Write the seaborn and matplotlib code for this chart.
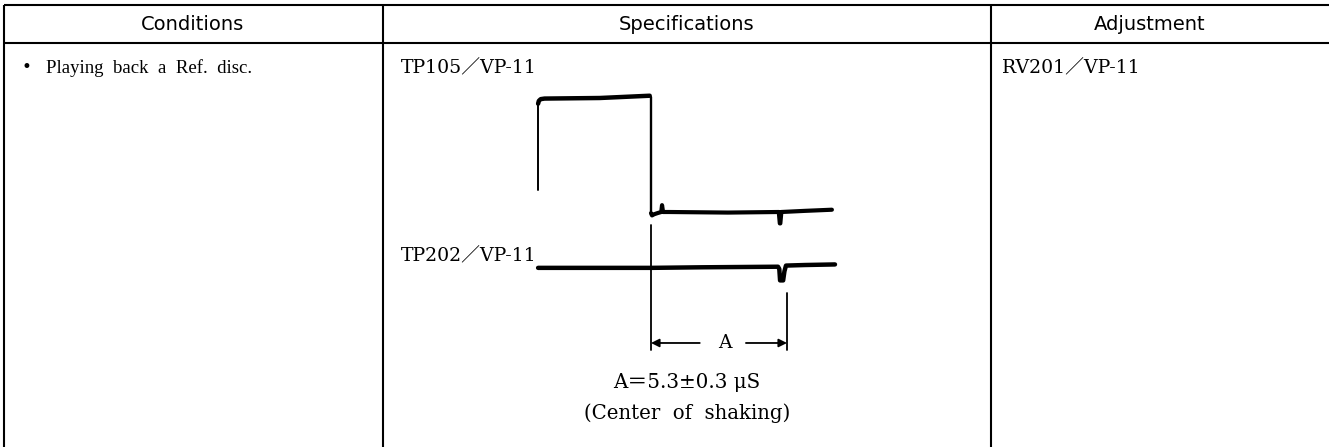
import matplotlib
matplotlib.use("Agg")
import matplotlib.pyplot as plt
import seaborn as sns
import numpy as np

# ---------------- data ----------------
headers = ["Conditions", "Specifications", "Adjustment"]
condition_text = "Playing  back  a  Ref.  disc."
spec_label_1 = "TP105／VP-11"
spec_label_2 = "TP202／VP-11"
adjust_text = "RV201／VP-11"
a_value = 5.3      # microseconds
spec_text = "A＝5.3±0.3 μS"
spec_note = "(Center  of  shaking)"

# TP105 waveform (time in us relative to falling edge, level in arbitrary units)
tp105_rise_t = [-4.40, -4.40]
tp105_rise_v = [0.19, 0.95]
tp105_top_t = [-4.40, -4.37, -4.30, -4.15, -2.0, -0.05]
tp105_top_v = [0.95, 0.975, 0.99, 0.995, 1.00, 1.02]
tp105_fall_t = [0.0, 0.0]
tp105_fall_v = [1.01, -0.01]
tp105_low_t = [0.0, 0.04, 0.12, 0.25, 0.40, 0.43, 0.47, 0.7, 3.0, 4.98, 5.02, 5.04, 5.08, 6.0, 7.05]
tp105_low_v = [-0.01, -0.03, -0.02, -0.01, 0.0, 0.06, 0.0, 0.0, -0.005, 0.0, -0.10, -0.10, 0.0, 0.01, 0.02]

# TP202 waveform
tp202_t = [-4.40, -1.0, 0.0, 2.0, 4.95, 5.00, 5.03, 5.15, 5.20, 5.26, 6.0, 7.17]
tp202_v = [-0.49, -0.49, -0.49, -0.485, -0.48, -0.50, -0.60, -0.60, -0.52, -0.47, -0.465, -0.46]

# ---------------- figure ----------------
sns.set_theme(style="white")
plt.rcParams["font.family"] = ["DejaVu Serif", "Noto Sans CJK JP", "DejaVu Sans"]

W, H = 1329, 447
fig = plt.figure(figsize=(W / 100, H / 100), dpi=100)
fig.patch.set_facecolor("white")

bg = fig.add_axes([0, 0, 1, 1])
bg.set_xlim(0, W)
bg.set_ylim(H, 0)
bg.axis("off")

# table grid
lw_tab = 1.5
bg.hlines([5, 42.5], 4, W, color="black", lw=lw_tab)
bg.vlines([4, 383, 991], 5, H, color="black", lw=lw_tab)

sans = ["DejaVu Sans"]
serif = ["DejaVu Serif", "Noto Sans CJK JP"]
serif2 = ["Liberation Serif", "Noto Sans CJK JP"]
for xc, h in zip([193, 687, 1150], headers):
    bg.text(xc, 24, h, ha="center", va="center", family=sans, fontsize=14, color="black")

bg.text(21, 68, "•", ha="left", va="center", family=serif, fontsize=12, color="black")
bg.text(46, 68, condition_text, ha="left", va="center", family=serif2,
        fontsize=13.5, color="black")
bg.text(401, 68, spec_label_1, ha="left", va="center", family=serif, fontsize=13.6, color="black")
bg.text(401, 256, spec_label_2, ha="left", va="center", family=serif, fontsize=13.6, color="black")
bg.text(1002, 68, adjust_text, ha="left", va="center", family=serif, fontsize=13.6, color="black")
bg.text(687, 383, spec_text, ha="center", va="center", family=serif, fontsize=14.3, color="black")
bg.text(687, 413, spec_note, ha="center", va="center", family=serif,
        fontsize=14.2, color="black")

# waveform axes: px = 651 + 25.66*t ; py = 212 - 114*v
x0, x1 = 520, 860
y0, y1 = 80, 360
wave = fig.add_axes([x0 / W, (H - y1) / H, (x1 - x0) / W, (y1 - y0) / H])
wave.set_xlim((x0 - 651) / 25.66, (x1 - 651) / 25.66)
wave.set_ylim((212 - y1) / 114, (212 - y0) / 114)
wave.axis("off")
wave.patch.set_alpha(0)

kw = dict(ax=wave, color="black", sort=False, estimator=None, legend=False)
sns.lineplot(x=tp105_rise_t, y=tp105_rise_v, lw=1.4, **kw)
sns.lineplot(x=tp105_top_t, y=tp105_top_v, lw=3.2, **kw)
sns.lineplot(x=tp105_fall_t, y=tp105_fall_v, lw=1.7, **kw)
sns.lineplot(x=tp105_low_t, y=tp105_low_v, lw=3.0, **kw)
sns.lineplot(x=tp202_t, y=tp202_v, lw=3.2, **kw)

# measurement markers
sns.lineplot(x=[0, 0], y=[-0.114, -1.21], lw=1.3, **kw)
sns.lineplot(x=[a_value, a_value], y=[-0.71, -1.21], lw=1.3, **kw)
ya = -1.149
wave.text(2.88, ya, "A", ha="center", va="center", family=serif, fontsize=13.5, color="black")
wave.annotate("", xy=(0, ya), xytext=(1.9, ya),
              arrowprops=dict(arrowstyle="-|>", lw=1.3, color="black", mutation_scale=12,
                              shrinkA=0, shrinkB=0))
wave.annotate("", xy=(a_value, ya), xytext=(3.7, ya),
              arrowprops=dict(arrowstyle="-|>", lw=1.3, color="black", mutation_scale=12,
                              shrinkA=0, shrinkB=0))

fig.savefig("out.png", dpi=100, facecolor="white")
